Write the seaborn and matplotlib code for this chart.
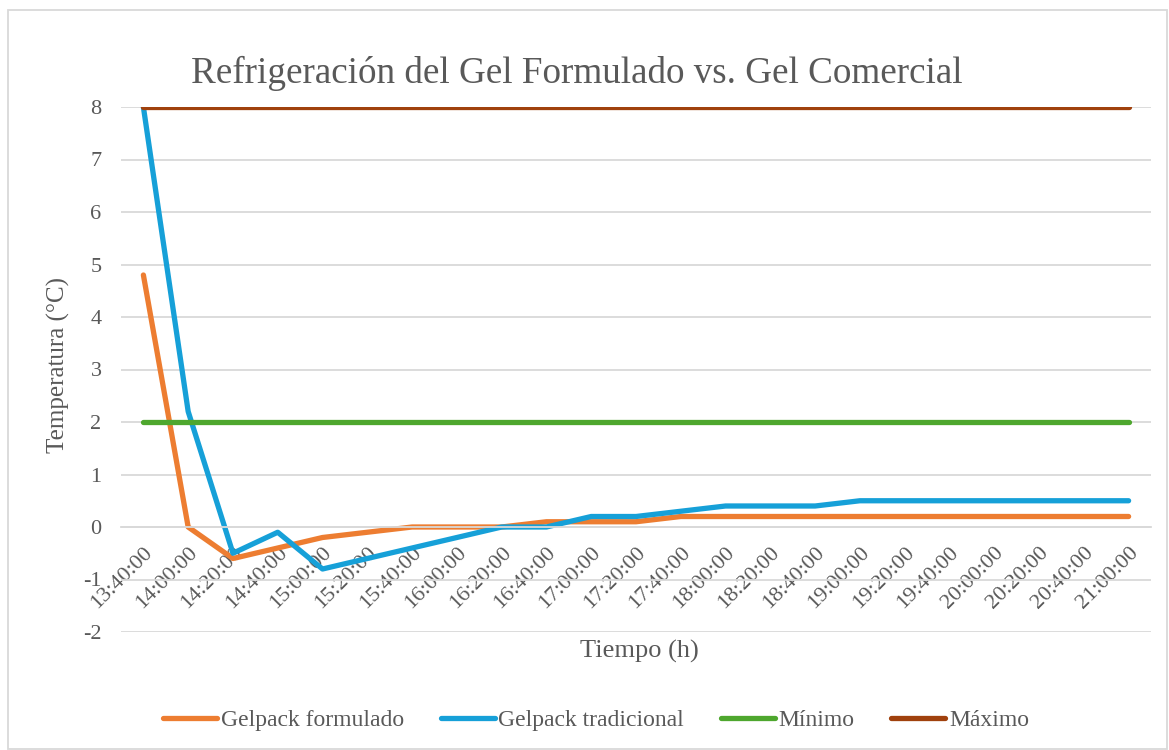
import numpy as np
import pandas as pd
import matplotlib
matplotlib.use('Agg')
import matplotlib.pyplot as plt
import seaborn as sns
from matplotlib.ticker import FixedLocator
from matplotlib.patches import Rectangle

# time labels (every 20 min)
tiempos = ['13:40:00', '14:00:00', '14:20:00', '14:40:00', '15:00:00', '15:20:00',
           '15:40:00', '16:00:00', '16:20:00', '16:40:00', '17:00:00', '17:20:00',
           '17:40:00', '18:00:00', '18:20:00', '18:40:00', '19:00:00', '19:20:00',
           '19:40:00', '20:00:00', '20:20:00', '20:40:00', '21:00:00']

formulado = [4.8, 0.0, -0.6, -0.4, -0.2, -0.1, 0.0, 0.0, 0.0, 0.1, 0.1, 0.1,
             0.2, 0.2, 0.2, 0.2, 0.2, 0.2, 0.2, 0.2, 0.2, 0.2, 0.2]
tradicional = [8.0, 2.2, -0.5, -0.1, -0.8, -0.6, -0.4, -0.2, 0.0, 0.0, 0.2, 0.2,
               0.3, 0.4, 0.4, 0.4, 0.5, 0.5, 0.5, 0.5, 0.5, 0.5, 0.5]
minimo = [2] * len(tiempos)
maximo = [8] * len(tiempos)

series = ['Gelpack formulado', 'Gelpack tradicional', 'Mínimo', 'Máximo']
colores = ['#ED7D31', '#16A0D8', '#4EA72E', '#A0410D']

df = pd.concat([
    pd.DataFrame({'x': range(len(tiempos)), 'temp': vals, 'serie': name})
    for name, vals in zip(series, [formulado, tradicional, minimo, maximo])
])

sns.set_style('white')
plt.rcParams['font.family'] = ['Liberation Serif', 'DejaVu Serif']
plt.rcParams['axes.unicode_minus'] = False
gris = '#595959'

fig = plt.figure(figsize=(11.69, 7.5), dpi=100)
ax = fig.add_axes([121/1169, 1 - 632/750, 1030/1169, 525/750])

sns.lineplot(data=df, x='x', y='temp', hue='serie', palette=dict(zip(series, colores)),
             linewidth=3.8, ax=ax, legend=False, solid_capstyle='round')

ax.set_xlim(-0.5, len(tiempos) - 0.5)
ax.set_ylim(-2, 8)
ax.set_yticks(range(-2, 9))
ax.yaxis.grid(True, color='#D9D9D9', linewidth=1.3)
ax.set_axisbelow(True)
ax.tick_params(axis='y', length=0, labelsize=16, labelcolor=gris, pad=14)

for s in ['top', 'right', 'left']:
    ax.spines[s].set_visible(False)
ax.spines['bottom'].set_position(('data', 0))
ax.spines['bottom'].set_color('#D9D9D9')
ax.spines['bottom'].set_linewidth(1.3)

ax.set_xticks(range(len(tiempos)))
ax.set_xticklabels(tiempos, rotation=45, ha='right', va='top', rotation_mode='anchor')
ax.xaxis.set_minor_locator(FixedLocator(np.arange(-0.5, len(tiempos), 1)))
ax.tick_params(axis='x', which='major', length=0, labelsize=16, labelcolor=gris, pad=12)
ax.tick_params(axis='x', which='minor', length=6, color='#D9D9D9', width=1.3, direction='out')

ax.set_xlabel('')
ax.set_ylabel('')
fig.text(639/1169, 1 - 651/750, 'Tiempo (h)', ha='center', va='center', fontsize=19, color=gris)
fig.text(58/1169, 1 - 365/750, 'Temperatura (°C)', ha='center', va='center', rotation=90,
         fontsize=18, color=gris)
fig.text(577/1169, 1 - 73/750, 'Refrigeración del Gel Formulado vs. Gel Comercial',
         ha='center', va='center', fontsize=26.7, color=gris)

handles = [plt.Line2D([], [], color=c, linewidth=3.8, solid_capstyle='round') for c in colores]
fig.legend(handles, series, loc='center', bbox_to_anchor=(596/1169, 1 - 720/750), ncol=4,
           frameon=False, fontsize=17, labelcolor=gris, handlelength=2.3,
           handletextpad=0.15, columnspacing=1.55)

fig.patches.append(Rectangle((8/1169, 0.002), 1159/1169, 1 - 10/750 - 0.002,
                             transform=fig.transFigure, fill=False,
                             edgecolor='#D9D9D9', linewidth=1.3))

fig.savefig('out.png', dpi=100)
